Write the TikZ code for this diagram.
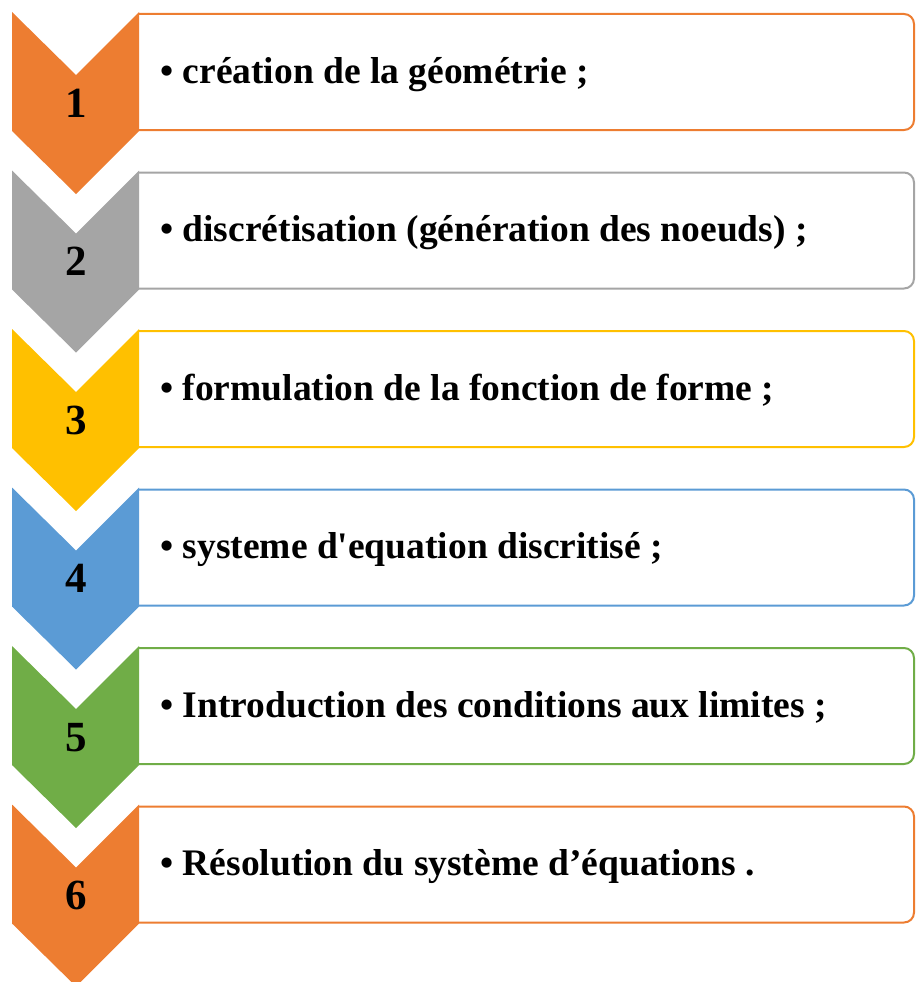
\documentclass[tikz,border=0pt]{standalone}
\usepackage{fontspec}
\setmainfont{Liberation Serif}
\definecolor{corange}{HTML}{ED7D31}
\definecolor{cgray}{HTML}{A5A5A5}
\definecolor{cgold}{HTML}{FFC000}
\definecolor{cblue}{HTML}{5B9BD5}
\definecolor{cgreen}{HTML}{70AD47}
\tikzset{
  stepnum/.style={font=\bfseries\fontsize{43}{46}\selectfont, anchor=base, inner sep=0pt},
  steptext/.style={font=\bfseries\fontsize{37.5}{40}\selectfont, anchor=base west, inner sep=0pt},
}
\begin{document}
\begin{tikzpicture}[x=1pt,y=-1pt]
	\useasboundingbox (0,0) rectangle (916,982);
	\foreach \i/\col/\txt in {1/corange/{création de la géométrie ;},
		2/cgray/{discrétisation (génération des noeuds) ;},
		3/cgold/{formulation de la fonction de forme ;},
		4/cblue/{systeme d\textquotesingle equation discritisé ;},
		5/cgreen/{Introduction des conditions aux limites ;},
		6/corange/{Résolution du système d’équations .}}
		{
		\pgfmathsetmacro\y{12+158.5*(\i-1)}
		\draw [\col, line width=2pt, fill=white, rounded corners=10pt]
			(139,\y+2) -- (914,\y+2) -- (914,\y+118) -- (139,\y+118);
		\fill [\col] (12,\y) -- (76,\y+63) -- (139,\y) -- (139,\y+119)
			-- (76,\y+182) -- (12,\y+119) -- cycle;
		\node[stepnum] (n\i) at (76,\y+105) {\i};
		\node[steptext] (t\i) at (160,\y+71) {• \txt};
		}
\end{tikzpicture}
\end{document}
